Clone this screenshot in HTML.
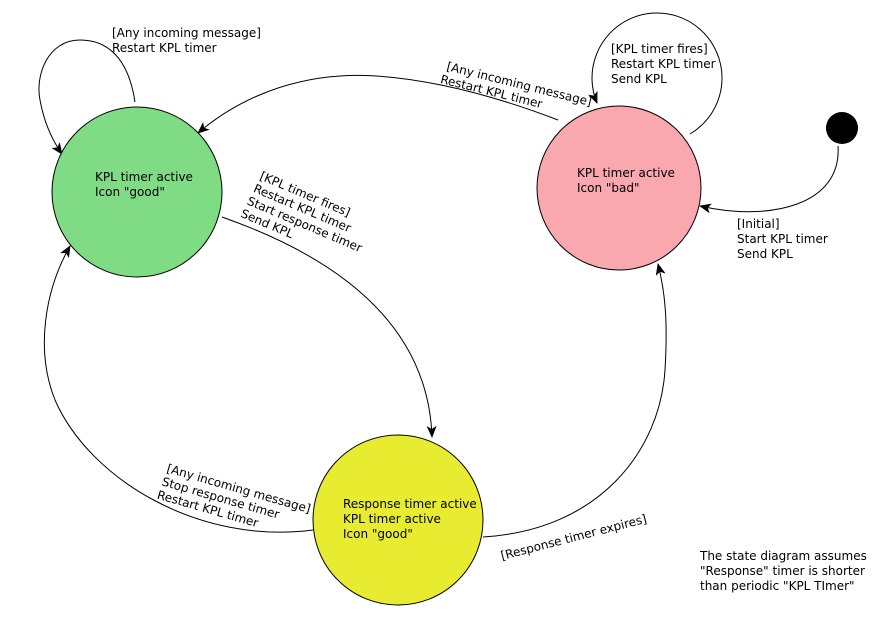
<!DOCTYPE html>
<html><head><meta charset="utf-8"><style>
html,body{margin:0;padding:0;background:#fff;}
svg{display:block;}
text{font-family:"DejaVu Sans","Liberation Sans",sans-serif;font-size:12px;fill:#000;}
</style></head><body>
<svg width="875" height="620" viewBox="0 0 875 620" xmlns="http://www.w3.org/2000/svg">
<defs>
<marker id="a" viewBox="0 0 12 10" refX="11" refY="5" markerWidth="12" markerHeight="10" markerUnits="userSpaceOnUse" orient="auto">
<path d="M0,0 L12,5 L0,10 L3,5 Z" fill="#000"/>
</marker>
</defs>
<g fill="none" stroke="#000" stroke-width="1">
<!-- pink self loop -->
<path d="M690,134 A65,65 0 1 0 597,103" marker-end="url(#a)"/>
<!-- green self loop -->
<path d="M135,102 C128,55 105,40 80,40 C48,40 35,75 40,100 C44,122 52,140 62,154" marker-end="url(#a)"/>
<!-- pink -> green -->
<path d="M558,120 C480,90 400,72 340,76 C280,80 232,104 198,133" marker-end="url(#a)"/>
<!-- green -> yellow -->
<path d="M222,217 C330,255 428,320 432,437" marker-end="url(#a)"/>
<!-- yellow -> green -->
<path d="M313,530 C200,545 90,480 55,400 C35,350 45,290 70,246" marker-end="url(#a)"/>
<!-- yellow -> pink -->
<path d="M483,537 C600,530 660,450 665,370 C668,320 665,292 658,264" marker-end="url(#a)"/>
<!-- initial -->
<path d="M838,146 C842,205 770,222 700,206" marker-end="url(#a)"/>
</g>
<circle cx="137" cy="192" r="85" fill="#7fdb84" stroke="#000"/>
<circle cx="619" cy="188" r="82" fill="#f8a8ae" stroke="#000"/>
<circle cx="398" cy="520" r="85" fill="#e8ec31" stroke="#000"/>
<circle cx="842" cy="128" r="16" fill="#000"/>

<text x="95" y="181">KPL timer active</text>
<text x="95" y="196">Icon "good"</text>
<text x="577" y="177">KPL timer active</text>
<text x="577" y="192">Icon "bad"</text>
<text x="343" y="508">Response timer active</text>
<text x="343" y="523">KPL timer active</text>
<text x="343" y="538">Icon "good"</text>

<text x="112" y="37">[Any incoming message]</text>
<text x="112" y="52">Restart KPL timer</text>

<text x="611" y="53">[KPL timer fires]</text>
<text x="611" y="68">Restart KPL timer</text>
<text x="611" y="83">Send KPL</text>

<text x="737" y="228">[Initial]</text>
<text x="737" y="243">Start KPL timer</text>
<text x="737" y="258">Send KPL</text>

<g transform="translate(446,70) rotate(14)">
<text x="0" y="0">[Any incoming message]</text>
<text x="-3" y="14">Restart KPL timer</text>
</g>

<g transform="translate(259,179) rotate(23)">
<text x="0" y="0">[KPL timer fires]</text>
<text x="-1" y="14">Restart KPL timer</text>
<text x="-2" y="28">Start response timer</text>
<text x="-3" y="42">Send KPL</text>
</g>

<g transform="translate(166,472) rotate(16)">
<text x="0" y="0">[Any incoming message]</text>
<text x="-1" y="14">Stop response timer</text>
<text x="-2" y="28">Restart KPL timer</text>
</g>

<g transform="translate(502,560) rotate(-14.5)">
<text x="0" y="0">[Response timer expires]</text>
</g>

<text x="700" y="560">The state diagram assumes</text>
<text x="700" y="575">"Response" timer is shorter</text>
<text x="700" y="590">than periodic "KPL TImer"</text>
</svg>
</body></html>
